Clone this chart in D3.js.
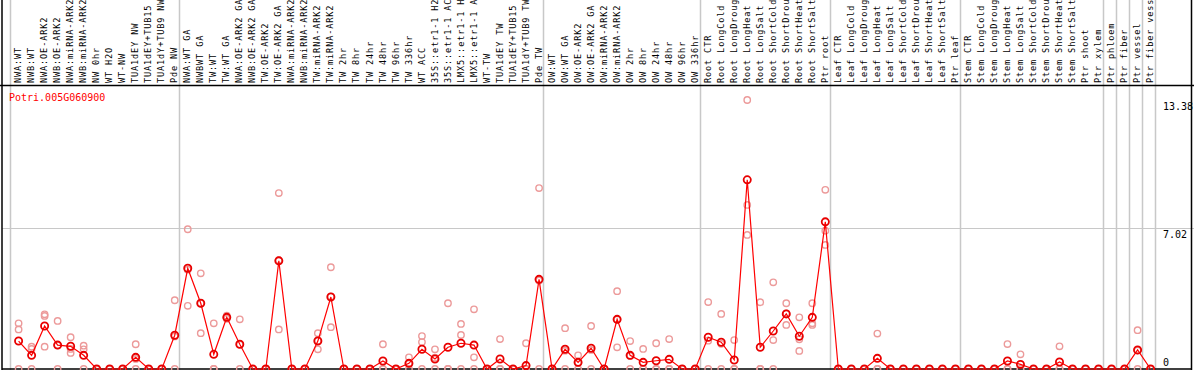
<!DOCTYPE html>
<html><head><meta charset="utf-8">
<script src="https://cdn.jsdelivr.net/npm/d3@7"></script>
<style>body{margin:0;background:#fff;}svg{display:block;}</style>
</head><body>
<svg id="c" width="1194" height="370"></svg>
<script>
const title = "Potri.005G060900";
const labels = ["NWA:WT","NWB:WT","NWA:OE-ARK2","NWB:OE-ARK2","NWA:miRNA-ARK2","NWB:miRNA-ARK2","NW 0hr","WT H2O","WT-NW","TUA1dEY NW","TUA1dEY+TUB15 NW","TUA1dY+TUB9 NW","Pde NW",
"NWA:WT GA","NWBWT GA","TW:WT","TW:WT GA","NWA:OE-ARK2 GA","NWB:OE-ARK2 GA","TW:OE-ARK2","TW:OE-ARK2 GA","NWA:miRNA-ARK2","NWB:miRNA-ARK2","TW:miRNA-ARK2","TW:miRNA-ARK2","TW 2hr","TW 8hr","TW 24hr","TW 48hr","TW 96hr","TW 336hr","WT ACC","35S::etr1-1 H2O","35S::etr1-1 ACC","LMX5::etr1-1 H2O","LMX5::etr1-1 ACC","WT-TW","TUA1dEY TW","TUA1dEY+TUB15 TW","TUA1dY+TUB9 TW","Pde TW",
"OW:WT","OW:WT GA","OW:OE-ARK2","OW:OE-ARK2 GA","OW:miRNA-ARK2","OW:miRNA-ARK2","OW 2hr","OW 8hr","OW 24hr","OW 48hr","OW 96hr","OW 336hr",
"Root CTR","Root LongCold","Root LongDrought","Root LongHeat","Root LongSalt","Root ShortCold","Root ShortDrought","Root ShortHeat","Root ShortSalt","Ptr root",
"Leaf CTR","Leaf LongCold","Leaf LongDrought","Leaf LongHeat","Leaf LongSalt","Leaf ShortCold","Leaf ShortDrought","Leaf ShortHeat","Leaf ShortSalt","Ptr leaf",
"Stem CTR","Stem LongCold","Stem LongDrought","Stem LongHeat","Stem LongSalt","Stem ShortCold","Stem ShortDrought","Stem ShortHeat","Stem ShortSalt","Ptr shoot","Ptr xylem",
"Ptr phloem","Ptr fiber","Ptr vessel","Ptr fiber vessel"];
const groupBreaks = [0,13,41,53,63,73,84,85,86,87,88];
const means = [1.39,0.68,2.14,1.19,1.13,0.68,0,0,0,0.58,0,0,1.68,
5.01,3.27,0.73,2.57,1.23,0,0,5.38,0,0,1.39,3.58,0,0,0,0.40,0,0.28,0.98,0.50,1.08,1.28,1.19,0,0.50,0,0.17,4.46,
0,0.98,0.33,1.03,0,2.47,0.68,0.33,0.41,0.48,0,0,
1.58,1.33,0.45,9.41,1.08,1.89,2.74,1.63,2.57,7.32,
0,0,0,0.53,0,0,0,0,0,0,
0,0,0,0.40,0.23,0,0,0.35,0,0,0,
0,0,0.95,0];
const rep1 = [2.27,1.11,2.72,2.39,1.58,1.16,0,0,0,1.23,0,0,3.42,
6.95,4.76,2.27,2.65,2.47,0,0,8.75,0,0,1.78,5.06,0,0,0,1.23,0,0.58,1.64,0.98,3.27,2.24,2.97,0,1.49,0,1.28,9.0,
0,2.03,0.68,2.14,0,3.87,1.39,1.0,1.28,1.49,0,0,
3.33,2.74,1.44,13.38,3.32,4.31,3.27,2.57,3.27,8.91,
0,0,0,1.76,0,0,0,0,0,0,
0,0,0,1.24,0.73,0,0,1.13,0,0,0,
0,0,1.93,0];
const rep2 = [1.97,1.0,2.64,1.18,1.0,0.98,0,0,0,0.5,0,0,1.62,
4.94,3.27,0,2.55,1.22,0,0,5.42,0,0,1.41,3.6,0,0,0,0,0,0.26,1.34,0.56,0,1.69,0.58,0,0,0,0,4.4,
0,0.91,0.31,0.95,0,2.46,0.65,0,0,0,0,0,
1.41,1.25,0,8.16,0,1.44,2.76,1.48,2.27,6.88,
0,0,0,0,0,0,0,0,0,0,
0,0,0,0,0,0,0,0,0,0,0,
0,0,0.92,0];
const rep3 = [0,0,1.11,0,0.80,0,0,0,0,0,0,0,0,
3.14,1.78,0,2.5,0,0,0,1.97,0,0,0.98,2.08,0,0,0,0,0,0,0,0,0,0,0,0,0,0,0,0,
0,0,0,0,0,1.08,0,0,0,0,0,0,
0,0,0,6.67,0,0,2.19,0.90,2.19,6.17,
0,0,0,0,0,0,0,0,0,0,
0,0,0,0,0,0,0,0,0,0,0,
0,0,0,0];
const yTicks = [0, 7.02, 13.38];

const svg = d3.select("#c");
const W = 1194, H = 370;
const bx = d3.scaleLinear().domain([0, labels.length]).range([10, 1155]);
const px = i => bx(i) + 8.6;
const y = d3.scaleLinear().domain([0, 13.38]).range([369, 100]);

// horizontal gridline at middle tick
svg.append("line").attr("x1",2).attr("x2",W).attr("y1",Math.round(y(7.02))+0.5).attr("y2",Math.round(y(7.02))+0.5)
  .attr("stroke","#c8c8c8").attr("stroke-width",1);
// group separators
svg.selectAll("line.g").data(groupBreaks).join("line").attr("class","g")
  .attr("x1",d=>Math.round(bx(d))+0.5).attr("x2",d=>Math.round(bx(d))+0.5)
  .attr("y1",0).attr("y2",H).attr("stroke","#c8c8c8").attr("stroke-width",1.5);
// borders
svg.append("line").attr("x1",0).attr("x2",W).attr("y1",85.5).attr("y2",85.5).attr("stroke","#000").attr("stroke-width",1.5);
svg.append("line").attr("x1",2).attr("x2",2).attr("y1",0).attr("y2",H).attr("stroke","#000").attr("stroke-width",1.5);
svg.append("line").attr("x1",1191.5).attr("x2",1191.5).attr("y1",0).attr("y2",H).attr("stroke","#000").attr("stroke-width",1.5);
svg.append("line").attr("x1",2).attr("x2",1192).attr("y1",369).attr("y2",369).attr("stroke","#000").attr("stroke-width",1.5);

// labels
svg.selectAll("text.lab").data(labels).join("text").attr("class","lab")
  .attr("transform",(d,i)=>`translate(${px(i)+2.6},83) rotate(-90)`)
  .attr("font-family","DejaVu Sans Mono").attr("font-size","8.6px").attr("letter-spacing","0.85px")
  .attr("fill","#000").text(d=>d);

// title
svg.append("text").attr("x",9).attr("y",101).attr("font-family","DejaVu Sans Mono").attr("font-size","10px")
  .attr("fill","#ff0000").text(title);

// y tick labels
svg.selectAll("text.yt").data(yTicks).join("text").attr("class","yt")
  .attr("x",1163).attr("y",d=> d===0 ? y(d)-3 : y(d)+10)
  .attr("font-family","DejaVu Sans Mono").attr("font-size","10px").attr("fill","#000").text(d=>d);

// replicate circles
const reps = [rep1, rep2, rep3];
reps.forEach(r=>{
  svg.append("g").selectAll("circle").data(r).join("circle")
    .attr("cx",(d,i)=>px(i)).attr("cy",d=>y(d)).attr("r",3.2)
    .attr("fill","none").attr("stroke","#ec9a9a").attr("stroke-width",1.4);
});
// mean line
svg.append("path").datum(means)
  .attr("d", d3.line().x((d,i)=>px(i)).y(d=>y(d)))
  .attr("fill","none").attr("stroke","#ff0000").attr("stroke-width",1.2);
svg.append("g").selectAll("circle").data(means).join("circle")
  .attr("cx",(d,i)=>px(i)).attr("cy",d=>y(d)).attr("r",3.6)
  .attr("fill","none").attr("stroke","#e80000").attr("stroke-width",1.8);
</script>
</body></html>
